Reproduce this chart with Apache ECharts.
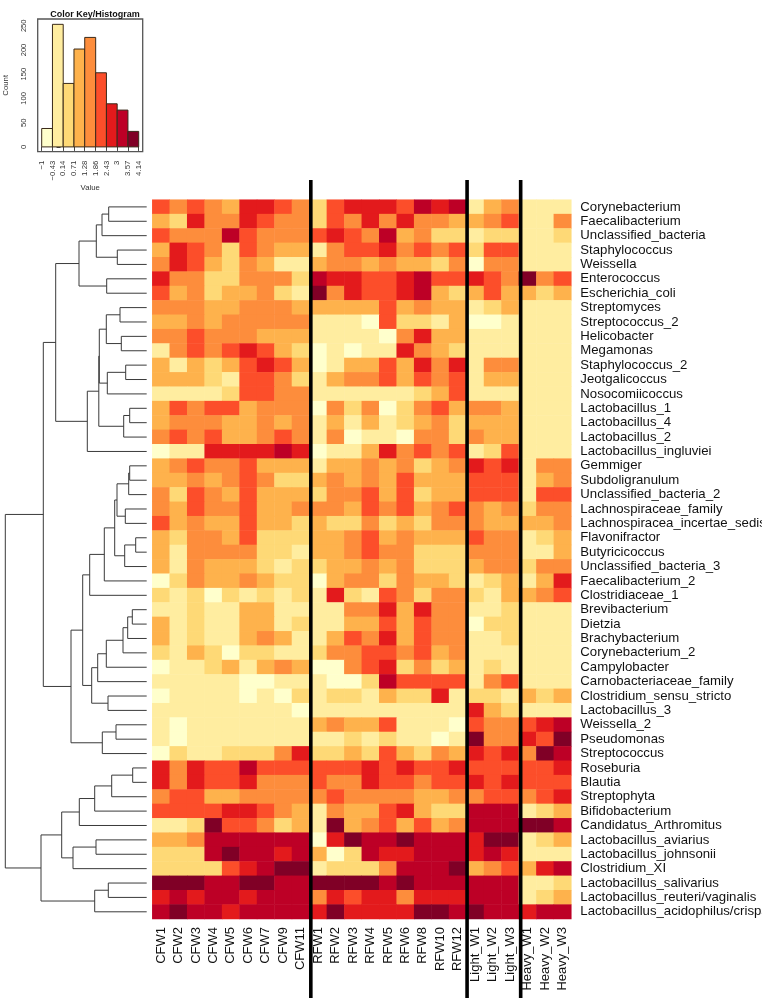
<!DOCTYPE html>
<html><head><meta charset="utf-8">
<style>html,body{margin:0;padding:0;background:#fff}#c{width:762px;height:998px}</style>
<script src="https://cdn.jsdelivr.net/npm/echarts@6/dist/echarts.min.js"></script>
</head><body><div id="c"></div>
<script>
const samples=['CFW1','CFW2','CFW3','CFW4','CFW5','CFW6','CFW7','CFW9','CFW11','RFW1','RFW2','RFW3','RFW4','RFW5','RFW6','RFW8','RFW10','RFW12','Light_W1','Light_W2','Light_W3','Heavy_W1','Heavy_W2','Heavy_W3'];
const taxa=['Corynebacterium','Faecalibacterium','Unclassified_bacteria','Staphylococcus','Weissella','Enterococcus','Escherichia_coli','Streptomyces','Streptococcus_2','Helicobacter','Megamonas','Staphylococcus_2','Jeotgalicoccus','Nosocomiicoccus','Lactobacillus_1','Lactobacillus_4','Lactobacillus_2','Lactobacillus_ingluviei','Gemmiger','Subdoligranulum','Unclassified_bacteria_2','Lachnospiraceae_family','Lachnospiracea_incertae_sedis','Flavonifractor','Butyricicoccus','Unclassified_bacteria_3','Faecalibacterium_2','Clostridiaceae_1','Brevibacterium','Dietzia','Brachybacterium','Corynebacterium_2','Campylobacter','Carnobacteriaceae_family','Clostridium_sensu_stricto','Lactobacillus_3','Weissella_2','Pseudomonas','Streptococcus','Roseburia','Blautia','Streptophyta','Bifidobacterium','Candidatus_Arthromitus','Lactobacillus_aviarius','Lactobacillus_johnsonii','Clostridium_XI','Lactobacillus_salivarius','Lactobacillus_reuteri/vaginalis','Lactobacillus_acidophilus/crispatus'];
const colorBreaks=[-1,-0.43,0.14,0.71,1.28,1.86,2.43,3,3.57,4.14];
const histCounts=[38,253,131,202,226,153,89,76,32];
const palette=['#FFFFCC','#FFEDA0','#FED976','#FEB24C','#FD8D3C','#FC4E2A','#E31A1C','#BD0026','#800026'];
const binValues=[-0.71,-0.14,0.43,1.0,1.57,2.14,2.71,3.29,3.86];
// colour-bin index read for each cell, one row per taxon
const cellBins=[
[5,4,5,4,3,6,6,5,4,2,5,6,6,6,5,7,6,7,1,3,4,1,1,1],
[3,2,6,4,4,6,5,4,4,2,5,4,6,4,6,4,4,3,3,4,5,1,1,4],
[5,4,4,4,7,5,4,4,4,5,6,5,4,7,3,4,2,2,1,2,2,1,1,2],
[3,6,5,4,2,5,4,3,3,1,4,5,5,6,4,5,4,5,2,5,5,1,1,1],
[4,6,5,3,2,4,3,1,1,3,4,4,3,4,3,3,2,4,0,4,4,1,1,1],
[6,4,4,2,2,4,4,4,2,7,6,6,5,5,6,7,5,5,6,5,4,8,4,5],
[5,3,4,2,3,3,4,2,1,8,4,6,5,5,6,7,3,2,3,5,3,3,2,3],
[4,4,4,3,3,4,4,4,3,3,3,3,3,5,3,4,3,3,1,2,3,1,1,1],
[3,3,4,3,4,4,4,4,4,1,1,1,0,5,2,2,1,3,0,0,1,1,1,1],
[4,4,5,4,4,4,3,3,3,1,1,1,1,0,4,6,3,3,1,1,1,1,1,1],
[1,4,5,4,5,6,5,3,2,0,1,0,1,1,6,4,3,2,1,1,1,1,1,1],
[3,1,3,2,3,5,6,5,3,0,1,3,3,5,3,6,4,6,1,4,4,1,1,1],
[3,3,3,2,1,5,5,4,2,1,3,4,4,5,3,5,4,5,1,3,3,1,1,1],
[1,1,1,1,2,5,5,4,4,1,1,1,1,1,1,2,3,5,1,1,1,1,1,1],
[3,5,4,5,5,3,4,4,4,0,4,2,4,0,2,4,5,3,4,4,3,1,1,1],
[3,4,4,4,3,3,4,3,4,1,3,1,3,1,2,3,4,2,3,3,3,1,1,1],
[4,5,4,5,3,3,4,5,4,1,4,0,1,1,0,4,4,2,4,3,3,1,1,1],
[0,1,1,6,6,6,6,7,6,0,1,1,3,6,4,5,4,5,1,2,5,1,1,1],
[3,4,5,4,4,5,3,3,3,1,3,3,4,3,4,2,3,4,6,5,6,1,4,4],
[3,3,4,3,4,5,4,2,2,3,4,3,4,3,5,3,3,3,5,5,5,1,3,4],
[4,2,5,4,3,5,3,3,3,2,4,4,5,3,5,2,3,3,5,5,5,1,5,5],
[4,3,5,4,4,5,3,3,4,4,4,3,5,4,5,3,4,5,4,3,4,2,4,4],
[5,3,4,3,3,5,3,3,2,3,2,2,4,2,3,2,4,4,4,3,3,3,3,4],
[3,2,4,4,3,5,2,2,2,3,3,4,5,3,4,3,3,3,5,4,4,1,2,3],
[3,1,4,4,4,4,2,2,1,3,3,4,5,4,4,2,2,2,4,4,4,1,1,3],
[3,1,4,3,3,3,2,1,2,2,3,3,4,3,4,2,2,2,3,4,4,2,4,4],
[0,2,4,3,3,4,3,2,2,0,3,4,4,2,4,3,3,2,1,2,3,1,3,6],
[2,1,2,0,2,1,2,1,2,1,6,2,1,5,4,2,4,4,2,1,3,3,4,5],
[1,1,2,1,1,3,3,1,1,1,1,4,4,6,3,6,4,4,1,1,2,1,1,1],
[3,1,2,1,1,3,3,1,2,1,1,3,3,5,3,5,4,4,0,2,2,1,1,1],
[3,1,2,1,1,3,4,3,1,1,3,5,4,6,3,5,4,4,1,1,2,1,1,1],
[2,1,3,2,0,2,2,1,1,2,4,4,5,5,4,5,3,4,1,1,1,1,1,1],
[0,1,1,2,3,1,3,4,3,0,0,4,5,6,2,4,2,3,1,2,1,1,1,1],
[1,1,1,1,1,0,0,1,1,1,0,0,2,7,5,5,5,5,1,4,5,1,1,1],
[0,1,1,1,1,0,1,0,2,1,2,2,1,3,2,2,6,1,2,2,1,3,2,3],
[1,1,1,1,1,1,1,1,0,1,1,1,1,1,1,1,1,1,6,3,2,1,1,1],
[1,0,1,1,1,1,1,1,1,3,4,3,3,5,1,1,1,0,5,4,4,5,6,7],
[1,0,1,1,1,1,1,1,1,1,1,2,1,2,1,1,0,1,8,4,4,6,5,8],
[0,2,1,1,2,2,2,4,6,2,2,3,2,5,3,2,4,3,6,5,6,4,8,7],
[6,4,6,5,5,7,5,5,5,5,5,5,6,5,6,5,5,6,5,5,5,5,5,6],
[6,4,6,5,5,6,4,4,4,5,4,4,6,5,5,4,5,5,6,5,6,5,5,5],
[4,5,5,3,3,4,4,4,4,4,5,4,4,4,4,3,3,4,4,5,5,4,5,6],
[5,5,5,5,6,6,5,4,3,1,4,3,3,5,6,3,2,2,7,7,7,1,2,3],
[1,1,2,8,5,5,4,2,3,1,8,3,4,5,3,5,3,4,7,7,7,8,8,7],
[3,3,4,7,7,7,7,7,7,0,6,8,7,7,8,7,7,7,6,8,8,1,2,3],
[2,2,2,7,8,7,7,6,7,3,0,2,7,6,6,7,7,7,6,7,6,1,1,1],
[2,2,2,2,5,6,7,8,8,1,2,2,2,4,7,7,7,8,3,4,5,3,6,7],
[8,8,8,7,7,8,8,7,7,8,8,8,8,7,8,7,7,7,7,7,7,1,1,2],
[6,7,6,7,7,6,7,7,7,4,6,5,6,6,4,6,6,6,7,7,7,1,2,3],
[7,8,7,7,6,7,7,7,7,6,8,6,6,6,6,8,8,7,8,7,7,6,7,7]
];
// dendrogram merges: [childA, childB, height]; numbers are leaves (rows), 'mN' are earlier merges
const dendroMerges=[
[0,1,38],['m0',2,44.7],[3,4,29.4],['m1','m2',50.4],[5,6,40],['m3','m4',67.7],
[7,8,26.7],[9,10,25.4],['m6','m7',40.4],[11,12,21],['m9',13,39.4],['m8','m10',47.4],
[14,15,17],['m12',16,23],['m11','m13',47.9],['m14',17,59.4],['m5','m15',91],
[18,19,17],['m17',20,18],[21,22,21.4],['m18','m19',29.7],[23,24,11],['m21',25,22],
['m20','m22',32],['m23',26,42.4],['m24',27,57],
[28,29,14.4],['m26',30,19],['m27',31,23.7],['m28',32,40.4],['m29',33,49],[34,35,38.7],
['m30','m31',55],['m25','m32',64],[36,37,30.7],['m34',38,44.4],['m33','m35',75.7],
['m16','m36',103.4],
[39,40,14],['m38',41,35],['m39',42,52],['m40',43,67.4],[44,45,50.7],['m42',46,73.7],
['m41','m43',85],[47,48,38.4],['m45',49,52],['m44','m46',105.7],['m37','m47',141.4]
];
const groupSeparators=[9.08,18.03,21.1];
const histTicksY=[0,50,100,150,200,250];

const FONT='"Liberation Sans",Arial,sans-serif';
const heatData=[];
cellBins.forEach((row,r)=>row.forEach((b,c)=>heatData.push([c,r,binValues[b]])));
const pieces=palette.map((color,i)=>({min:colorBreaks[i],max:colorBreaks[i+1],color}));

const nodes=[];
const place=k=>typeof k==='number'?{y:k+0.5,h:0}:nodes[+k.slice(1)];
const dendroData=dendroMerges.map(([a,b,h])=>{
  const A=place(a),B=place(b);
  nodes.push({y:(A.y+B.y)/2,h});
  return [A.y,A.h,B.y,B.h,h];
});
const histData=histCounts.map((n,i)=>[colorBreaks[i],colorBreaks[i+1],n]);

const chart=echarts.init(document.getElementById('c'),null,{renderer:'canvas',width:762,height:998});
chart.setOption({
  animation:false,backgroundColor:'#fff',
  title:{text:'Color Key/Histogram',left:90,top:5,textAlign:'center',
    textStyle:{fontFamily:FONT,fontSize:9,fontWeight:'bold',color:'#111'}},
  visualMap:{show:false,type:'piecewise',seriesIndex:0,dimension:2,pieces},
  grid:[
    {left:152.3,top:199.7,width:419,height:719.3,outerBoundsMode:'none'},
    {left:0,top:199.7,width:146.7,height:719.3,outerBoundsMode:'none'},
    {left:37.7,top:19,width:105,height:132.7,show:true,borderColor:'#555',borderWidth:1.3,backgroundColor:'transparent',outerBoundsMode:'none'},
    {left:152.3,top:180,width:419,height:818,outerBoundsMode:'none'}
  ],
  xAxis:[
    {gridIndex:0,type:'category',data:samples,position:'bottom',axisLine:{show:false},axisTick:{show:false},splitLine:{show:false},
      axisLabel:{interval:0,rotate:90,margin:8,padding:[2,0,0,0],fontFamily:FONT,fontSize:13,color:'#111'}},
    {gridIndex:1,type:'value',min:0,max:146.7,inverse:true,show:false},
    {gridIndex:2,type:'value',min:-1.212,max:4.352,splitLine:{show:false},axisLine:{show:false},
      axisTick:{show:true,length:4,lineStyle:{color:'#444'},customValues:colorBreaks},
      axisLabel:{rotate:90,margin:9,fontFamily:FONT,fontSize:7.8,color:'#333',customValues:colorBreaks,
        formatter:v=>String(v).replace('-','\u2212')},
      name:'Value',nameLocation:'middle',nameGap:29,nameTextStyle:{fontFamily:FONT,fontSize:7.8,color:'#333'}},
    {gridIndex:3,type:'value',min:0,max:24,show:false}
  ],
  yAxis:[
    {gridIndex:0,type:'category',data:taxa,inverse:true,position:'right',axisLine:{show:false},axisTick:{show:false},splitLine:{show:false},
      axisLabel:{interval:0,margin:9,padding:[3,0,0,0],fontFamily:FONT,fontSize:13.2,color:'#111'}},
    {gridIndex:1,type:'value',min:0,max:50,inverse:true,show:false},
    {gridIndex:2,type:'value',min:-9.9,max:264,splitLine:{show:false},axisLine:{show:false},
      axisTick:{show:true,length:4,lineStyle:{color:'#444'},customValues:histTicksY},
      axisLabel:{rotate:90,margin:10,fontFamily:FONT,fontSize:7.6,color:'#333',customValues:histTicksY},
      name:'Count',nameLocation:'middle',nameGap:28,nameTextStyle:{fontFamily:FONT,fontSize:7.8,color:'#333'}},
    {gridIndex:3,type:'value',min:0,max:1,show:false}
  ],
  series:[
    {type:'heatmap',xAxisIndex:0,yAxisIndex:0,data:heatData,silent:true,emphasis:{disabled:true},progressive:0},
    {type:'custom',xAxisIndex:1,yAxisIndex:1,data:dendroData,silent:true,clip:false,
      encode:{x:4,y:0},
      renderItem:(p,api)=>{
        const ya=api.value(0),ha=api.value(1),yb=api.value(2),hb=api.value(3),hm=api.value(4);
        return {type:'polyline',shape:{points:[api.coord([ha,ya]),api.coord([hm,ya]),api.coord([hm,yb]),api.coord([hb,yb])]},
          style:{stroke:'#3a3a3a',fill:null,lineWidth:1}};
      }},
    {type:'custom',xAxisIndex:2,yAxisIndex:2,data:histData,silent:true,
      encode:{x:[0,1],y:2},
      renderItem:(p,api)=>{
        const a=api.coord([api.value(0),0]),b=api.coord([api.value(1),api.value(2)]);
        return {type:'rect',shape:{x:a[0],y:b[1],width:b[0]-a[0],height:a[1]-b[1]},
          style:{fill:palette[p.dataIndex],stroke:'#3a2a1a',lineWidth:1}};
      }},
    ...groupSeparators.map(x=>({type:'line',xAxisIndex:3,yAxisIndex:3,data:[[x,0],[x,1]],symbol:'none',silent:true,clip:false,
      lineStyle:{color:'#000',width:3.6,cap:'butt'}}))
  ]
});
</script></body></html>
